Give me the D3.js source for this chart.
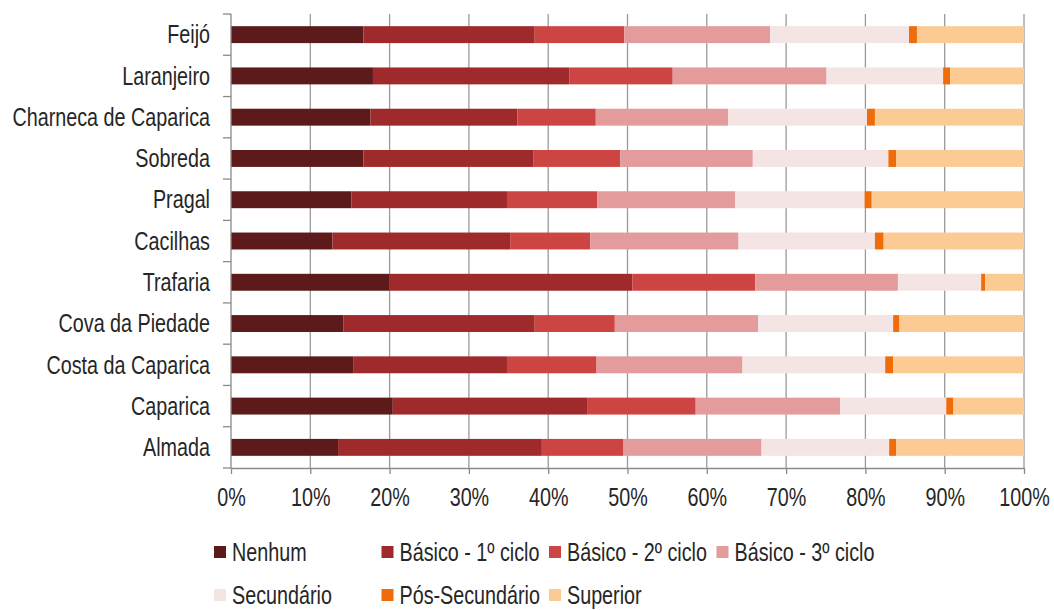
<!DOCTYPE html>
<html>
<head>
<meta charset="utf-8">
<script src="https://cdn.jsdelivr.net/npm/d3@7"></script>
<style>
  body { margin: 0; background: #fff; }
  text { font-family: "Liberation Sans", Arial, sans-serif; fill: #262626; }
</style>
</head>
<body>
<script>
var categories = ['Feijó', 'Laranjeiro', 'Charneca de Caparica', 'Sobreda', 'Pragal', 'Cacilhas',
  'Trafaria', 'Cova da Piedade', 'Costa da Caparica', 'Caparica', 'Almada']

var series = ['Nenhum', 'Básico - 1º ciclo', 'Básico - 2º ciclo', 'Básico - 3º ciclo',
  'Secundário', 'Pós-Secundário', 'Superior']

var colors = ['#5c1a1b', '#9e2a2b', '#cd4542', '#e39b9b', '#f4e4e4', '#ee6c0a', '#fbcb93']

// percentage of each level, per freguesia (same order as categories)
var nenhum     = [16.7, 17.9, 17.6, 16.7, 15.2, 12.8, 20.0, 14.2, 15.4, 20.4, 13.5]
var basico1    = [21.6, 24.8, 18.5, 21.4, 19.6, 22.4, 30.6, 24.1, 19.4, 24.5, 25.7]
var basico2    = [11.3, 13.0,  9.9, 11.0, 11.4, 10.1, 15.5, 10.1, 11.3, 13.7, 10.3]
var basico3    = [18.4, 19.4, 16.7, 16.7, 17.4, 18.7, 18.0, 18.1, 18.4, 18.2, 17.4]
var secundario = [17.5, 14.7, 17.5, 17.1, 16.3, 17.2, 10.5, 17.0, 18.0, 13.4, 16.1]
var posSec     = [ 1.0,  0.9,  1.0,  1.0,  0.9,  1.1,  0.5,  0.8,  1.0,  0.9,  0.9]
var superior   = [13.5,  9.3, 18.8, 16.1, 19.2, 17.7,  4.9, 15.7, 16.5,  8.9, 16.1]

var xTicks = [0, 10, 20, 30, 40, 50, 60, 70, 80, 90, 100]

var values = [nenhum, basico1, basico2, basico3, secundario, posSec, superior]

var rows = categories.map(function(c, i){
  var d = {cat: c}
  series.forEach(function(s, j){ d[s] = values[j][i] })
  return d
})

var width = 1054, height = 610
var margin = {left: 231, right: 30, top: 14, bottom: 142}
var fontSize = '25px', squeeze = 'scale(0.79,1)'   // tall, narrow lettering of the original

var svg = d3.select('body').append('svg')
  .attr('width', width).attr('height', height)

var g = svg.append('g').attr('transform', 'translate(' + margin.left + ',' + margin.top + ')')
var w = width - margin.left - margin.right
var h = height - margin.top - margin.bottom

var x = d3.scaleLinear().domain([0, 100]).range([0, w])
var y = d3.scaleBand().domain(categories).range([0, h]).paddingInner(0.59).paddingOuter(0.295)

var stacked = d3.stack().keys(series)(rows)

// gridlines
g.selectAll('line.grid').data(xTicks.slice(1)).enter().append('line')
  .attr('class', 'grid')
  .attr('x1', function(d){ return x(d) }).attr('x2', function(d){ return x(d) })
  .attr('y1', 0).attr('y2', h)
  .attr('stroke', '#9a9a9a').attr('stroke-width', 1.3)

// bars
g.selectAll('g.layer').data(stacked).enter().append('g')
  .attr('class', 'layer')
  .attr('fill', function(d, i){ return colors[i] })
  .selectAll('rect').data(function(d){ return d }).enter().append('rect')
  .attr('x', function(d){ return x(d[0]) })
  .attr('width', function(d){ return x(d[1]) - x(d[0]) })
  .attr('y', function(d){ return y(d.data.cat) })
  .attr('height', y.bandwidth())

// x axis
var xAxis = d3.axisBottom(x).tickValues(xTicks).tickFormat(function(d){ return d + '%' })
  .tickSize(6).tickSizeOuter(0)
var xg = g.append('g').attr('transform', 'translate(0,' + h + ')').call(xAxis)
xg.select('.domain').attr('stroke', '#8a8a8a').attr('stroke-width', 1.3)
xg.selectAll('.tick line').attr('stroke', '#8a8a8a').attr('stroke-width', 1.3)
xg.selectAll('.tick text')
  .attr('y', 29).attr('dy', '0.35em')
  .attr('transform', squeeze)
  .style('font-size', fontSize)
  .style('font-family', '"Liberation Sans", Arial, sans-serif').attr('fill', '#262626')

// y axis
var step = h / categories.length
g.append('line').attr('x1', 0).attr('x2', 0).attr('y1', 0).attr('y2', h)
  .attr('stroke', '#8a8a8a').attr('stroke-width', 1.3)
g.selectAll('line.ytick').data(d3.range(categories.length + 1)).enter().append('line')
  .attr('class', 'ytick')
  .attr('x1', -8).attr('x2', 0)
  .attr('y1', function(d){ return d * step }).attr('y2', function(d){ return d * step })
  .attr('stroke', '#8a8a8a').attr('stroke-width', 1.3)

g.selectAll('g.ylab').data(categories).enter().append('g')
  .attr('class', 'ylab')
  .attr('transform', function(d){ return 'translate(-21,' + (y(d) + y.bandwidth() / 2) + ') ' + squeeze })
  .append('text')
  .attr('dy', '0.35em')
  .attr('text-anchor', 'end')
  .style('font-size', fontSize)
  .text(function(d){ return d })

// legend
var lg = svg.append('g').selectAll('g').data(series).enter().append('g')
  .attr('transform', function(d, i){
    var col = i < 4 ? i : i - 4
    var row = i < 4 ? 0 : 1
    return 'translate(' + (214 + col * 167.5) + ',' + (552 + row * 43) + ')'
  })
lg.append('rect').attr('x', 0).attr('y', -6).attr('width', 12).attr('height', 12)
  .attr('fill', function(d, i){ return colors[i] })
lg.append('g').attr('transform', 'translate(18,0) ' + squeeze)
  .append('text').attr('dy', '0.35em')
  .style('font-size', fontSize).text(function(d){ return d })
</script>
</body>
</html>
